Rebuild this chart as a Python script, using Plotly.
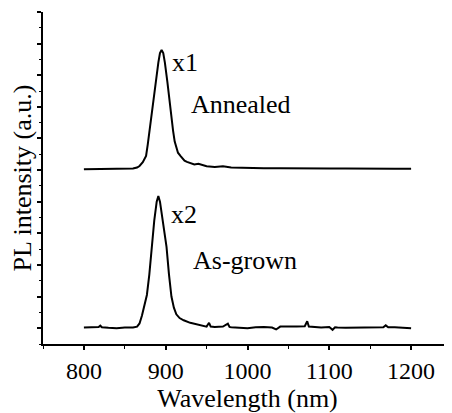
import plotly.graph_objects as go

# Annealed spectrum (x1), plotted units
wl_annealed = [800, 810, 820, 830, 840, 850, 855, 860, 865, 868, 872, 876, 878, 880, 883, 885, 888, 891, 893, 895,
               897, 899, 902, 904, 907, 909, 911, 913, 915, 918, 920, 923, 926, 930, 935, 940, 945, 950,
               960, 970, 980, 990, 1000, 1020, 1040, 1060, 1080, 1100, 1120, 1140, 1160, 1180, 1200]
pl_annealed = [5.03, 5.03, 5.04, 5.03, 5.03, 5.04, 5.04, 5.05, 5.08, 5.13, 5.25, 5.45, 5.8, 6.2, 6.85, 7.3, 7.95,
               8.4, 8.7, 8.8, 8.7, 8.4, 7.8, 7.3, 6.7, 6.25, 5.9, 5.7, 5.55, 5.45, 5.4, 5.3, 5.26, 5.22,
               5.18, 5.2, 5.15, 5.12, 5.1, 5.12, 5.08, 5.07, 5.08, 5.06, 5.06, 5.05, 5.06, 5.05, 5.05,
               5.04, 5.05, 5.04, 5.04]

# As-grown spectrum (x2), plotted units
wl_asgrown = [800, 810, 818, 820, 822, 830, 840, 850, 860, 865, 868, 871, 874, 877, 880, 883, 886, 889, 891,
              893, 895, 898, 901, 904, 907, 910, 913, 917, 922, 930, 940, 950, 953, 955, 960, 970, 976, 978,
              980, 990, 1000, 1010, 1020, 1030, 1035, 1040, 1050, 1060, 1070, 1073, 1075, 1080, 1090, 1100,
              1104, 1107, 1110, 1120, 1130, 1140, 1150, 1160, 1166, 1169, 1172, 1180, 1190, 1200]
pl_asgrown = [0.02, 0.03, 0.04, 0.08, 0.03, 0.01, 0.0, 0.02, 0.02, 0.05, 0.15, 0.4, 0.75, 1.05, 1.7, 2.57, 3.4,
              4.0, 4.18, 4.0, 3.6, 3.0, 2.57, 1.7, 1.0, 0.65, 0.44, 0.32, 0.25, 0.17, 0.1, 0.05, 0.17, 0.05,
              0.04, 0.05, 0.14, 0.04, 0.03, 0.02, 0.0, 0.03, 0.04, 0.02, -0.04, 0.05, 0.04, 0.05, 0.06, 0.22,
              0.05, 0.04, 0.02, 0.04, -0.05, 0.03, 0.02, 0.01, 0.01, 0.02, 0.02, 0.03, 0.03, 0.09, 0.03, 0.03,
              0.02, 0.0]

x_ticks = [800, 900, 1000, 1100, 1200]
x_ticklabels = ["800", "900", "1000", "1100", "1200"]

labels = ["x1", "Annealed", "x2", "As-grown"]
label_x = [923, 929, 922, 931]
label_y = [8.4, 7.06, 3.58, 2.15]
label_anchor = ["center", "left", "center", "left"]

FONT = "Liberation Serif, Times New Roman, serif"

fig = go.Figure()
fig.add_trace(go.Scatter(x=wl_annealed, y=pl_annealed, mode="lines",
                         line=dict(color="black", width=2), showlegend=False))
fig.add_trace(go.Scatter(x=wl_asgrown, y=pl_asgrown, mode="lines",
                         line=dict(color="black", width=2), showlegend=False))

for t, x, y, a in zip(labels, label_x, label_y, label_anchor):
    fig.add_annotation(x=x, y=y, text=t, showarrow=False, xanchor=a, yanchor="middle",
                       font=dict(family=FONT, size=26, color="black"))

# page body has an 8px margin, so the figure is sized/offset to compensate
fig.update_layout(
    width=444, height=405,
    margin=dict(l=35, r=0, t=4, b=69),
    paper_bgcolor="white", plot_bgcolor="white",
    font=dict(family=FONT, color="black"),
)
fig.update_xaxes(
    range=[750, 1250], tickvals=x_ticks, ticktext=x_ticklabels, automargin=False,
    showline=True, linecolor="black", linewidth=1.5, showgrid=False, zeroline=False,
    ticks="outside", ticklen=4, tickwidth=1.5, tickcolor="black",
    tickfont=dict(family=FONT, size=24, color="black"),
    minor=dict(dtick=50, tick0=750, ticks="outside", ticklen=3, tickwidth=1.2, tickcolor="black"),
    title=dict(text="Wavelength (nm)", font=dict(family=FONT, size=26, color="black"), standoff=0),
)
fig.update_yaxes(
    range=[-0.5, 10], dtick=1, tick0=0, showticklabels=False, automargin=False,
    showline=True, linecolor="black", linewidth=1.5, showgrid=False, zeroline=False,
    ticks="outside", ticklen=4, tickwidth=1.5, tickcolor="black",
    minor=dict(dtick=0.5, tick0=0, ticks="outside", ticklen=2, tickwidth=1.2, tickcolor="black"),
    title=dict(text="PL intensity (a.u.)", font=dict(family=FONT, size=26, color="black"), standoff=1),
)

fig.write_html("out.html")
